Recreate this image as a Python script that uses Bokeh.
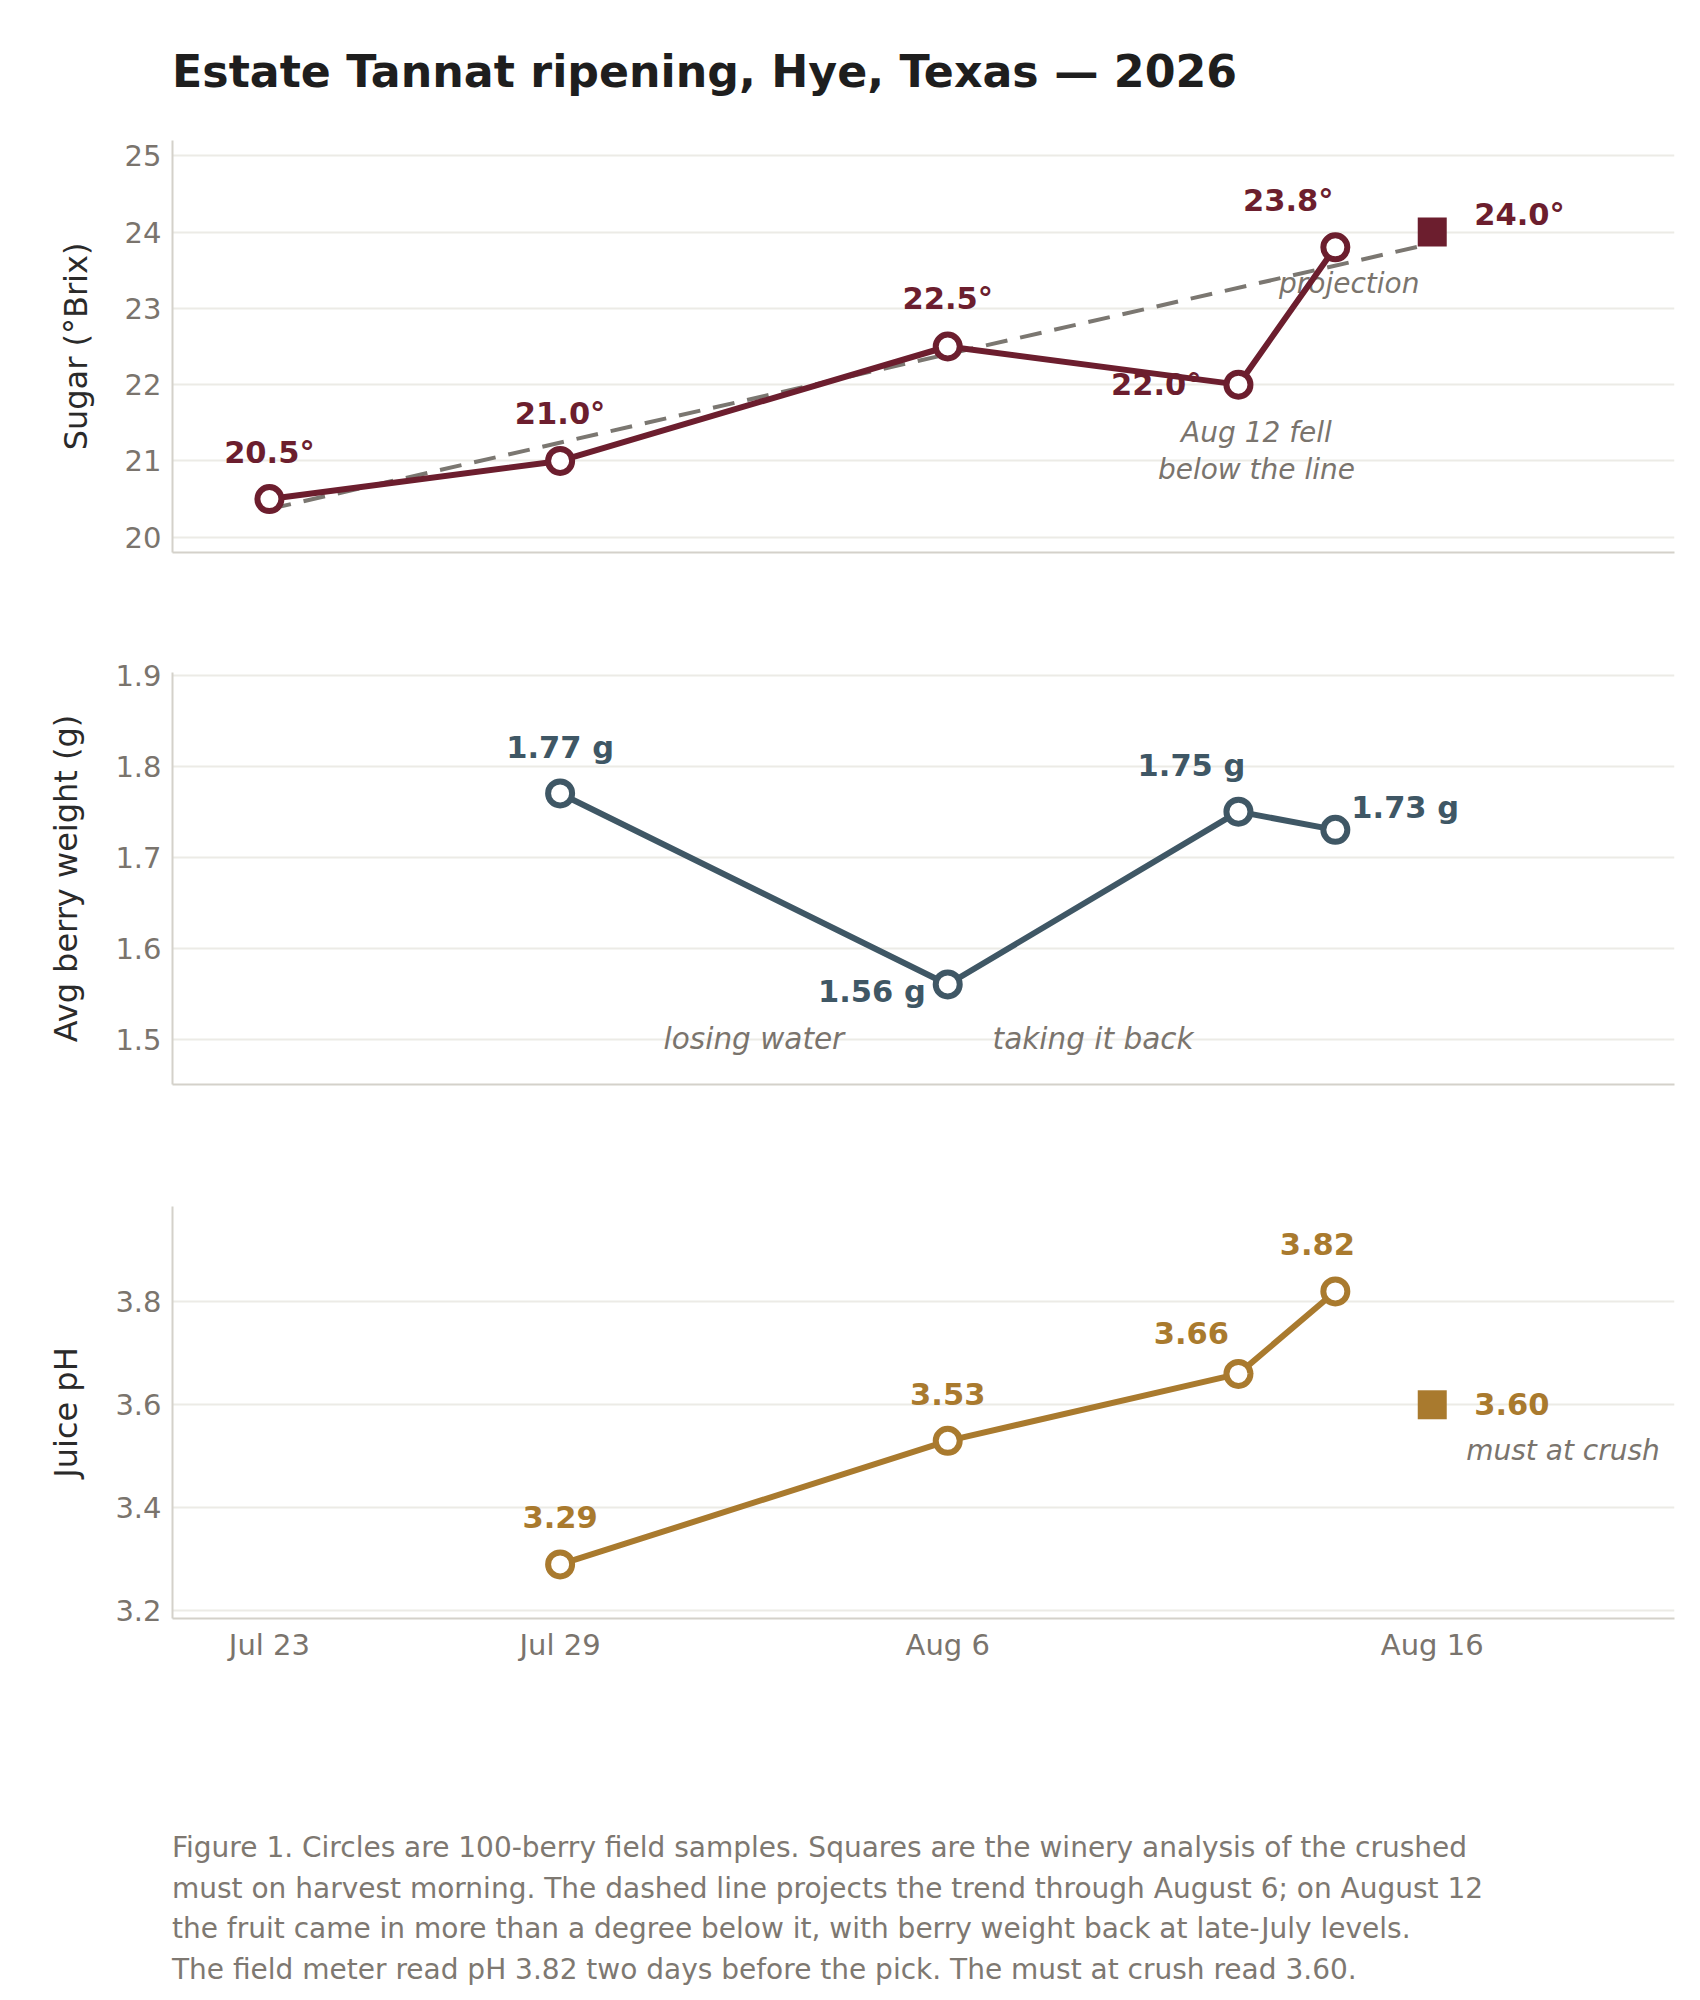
import pandas as pd
from bokeh.plotting import figure
from bokeh.models import Range1d, FixedTicker, Div, ColumnDataSource
from bokeh.layouts import column
from bokeh.core.properties import value
from bokeh.embed import file_html
from bokeh.resources import INLINE

# ---------------- data ----------------
sugar_dates = ["2026-07-23", "2026-07-29", "2026-08-06", "2026-08-12", "2026-08-14"]
sugar_brix = [20.5, 21.0, 22.5, 22.0, 23.8]
berry_dates = ["2026-07-29", "2026-08-06", "2026-08-12", "2026-08-14"]
berry_weight_g = [1.77, 1.56, 1.75, 1.73]
ph_dates = ["2026-07-29", "2026-08-06", "2026-08-12", "2026-08-14"]
juice_ph = [3.29, 3.53, 3.66, 3.82]
crush_date = "2026-08-16"
crush_brix = 24.0
crush_ph = 3.60
projection_dates = ["2026-07-23", "2026-08-16"]
projection_brix = [20.37, 23.85]
tick_dates = ["2026-07-23", "2026-07-29", "2026-08-06", "2026-08-16"]
tick_labels = ["Jul 23", "Jul 29", "Aug 6", "Aug 16"]
x_start, x_end = "2026-07-21", "2026-08-21"
sugar_ticks = [20, 21, 22, 23, 24, 25]
berry_ticks = [1.5, 1.6, 1.7, 1.8, 1.9]
ph_ticks = [3.2, 3.4, 3.6, 3.8]
losing_anchor = ("2026-08-02", 1.5)
taking_anchor = ("2026-08-09", 1.5)

title_text = "Estate Tannat ripening, Hye, Texas \u2014 2026"
caption_lines = [
    "Figure 1. Circles are 100-berry field samples. Squares are the winery analysis of the crushed",
    "must on harvest morning. The dashed line projects the trend through August 6; on August 12",
    "the fruit came in more than a degree below it, with berry weight back at late-July levels.",
    "The field meter read pH 3.82 two days before the pick. The must at crush read 3.60.",
]

# ---------------- style ----------------
FONT = "DejaVu Sans"
MAROON = "#6c1e2e"
SLATE = "#3f5765"
OCHRE = "#a97a2e"
DASH_GREY = "#7b7771"
TICK_GREY = "#7a746d"
NOTE_GREY = "#7a746d"
GRID = "#ecebe6"
AXIS = "#d4d1ca"

T = lambda s: pd.Timestamp(s)
ms = lambda s: pd.Timestamp(s).value / 1e6


def make_fig(height, btop, bbottom, y0, y1, yticks, ylabel, show_x):
    p = figure(width=1692, height=height, x_axis_type="datetime",
               x_range=Range1d(T(x_start), T(x_end)), y_range=Range1d(y0, y1),
               output_backend="svg", toolbar_location=None,
               min_border_left=172, min_border_right=18,
               min_border_top=btop, min_border_bottom=bbottom)
    p.outline_line_color = None
    p.background_fill_color = "white"
    p.border_fill_color = "white"
    p.xgrid.grid_line_color = None
    p.ygrid.grid_line_color = GRID
    p.ygrid.grid_line_width = 2
    p.yaxis.ticker = FixedTicker(ticks=yticks)
    if show_x:
        p.xaxis.ticker = FixedTicker(ticks=[ms(d) for d in tick_dates])
        p.xaxis.major_label_overrides = {ms(d): l for d, l in zip(tick_dates, tick_labels)}
    else:
        p.xaxis.ticker = FixedTicker(ticks=[])
    for ax in (p.xaxis, p.yaxis):
        ax.axis_line_color = AXIS
        ax.axis_line_width = 2
        ax.major_tick_line_color = None
        ax.minor_tick_line_color = None
        ax.major_label_text_font = FONT
        ax.major_label_text_font_size = "29px"
        ax.major_label_text_color = TICK_GREY
    p.xaxis.major_label_standoff = 3
    p.yaxis.major_label_standoff = 5
    p.yaxis.axis_label = ylabel
    p.yaxis.axis_label_text_font = FONT
    p.yaxis.axis_label_text_font_size = "32px"
    p.yaxis.axis_label_text_font_style = "normal"
    p.yaxis.axis_label_text_color = "#2a2a2a"
    p.yaxis.axis_label_standoff = 27
    return p


def lab(p, x, y, text, color, dx=0, dy=0, align="center", style="bold", size="30.5px"):
    src = ColumnDataSource(dict(x=[T(x)], y=[y], t=[text]))
    p.text(x="x", y="y", text="t", source=src, x_offset=dx, y_offset=dy,
           text_align=align, text_baseline="middle", text_font=value(FONT),
           text_font_size=size, text_font_style=style, text_color=color,
           text_line_height=1.13)


def note(p, x, y, text, dx=0, dy=0, align="center", size="28px"):
    lab(p, x, y, text, NOTE_GREY, dx, dy, align, "italic", size)


def series(p, dates, vals, color):
    src = ColumnDataSource(dict(x=[T(d) for d in dates], y=vals))
    p.line("x", "y", source=src, line_color=color, line_width=6)
    p.scatter("x", "y", source=src, marker="circle", size=24, fill_color="white",
              line_color=color, line_width=6)


def crush(p, y, color):
    src = ColumnDataSource(dict(x=[T(crush_date)], y=[y]))
    p.scatter("x", "y", source=src, marker="square", size=29, fill_color=color,
              line_color=None)


# ---------------- panel 1: sugar ----------------
p1 = make_fig(504, 30, 62, 19.8, 25.2, sugar_ticks, "Sugar (\u00b0Brix)", False)
fmt_b = lambda v: f"{v:.1f}\u00b0"
lab(p1, sugar_dates[0], sugar_brix[0], fmt_b(sugar_brix[0]), MAROON, 0, -47)
lab(p1, sugar_dates[1], sugar_brix[1], fmt_b(sugar_brix[1]), MAROON, 0, -47)
lab(p1, sugar_dates[2], sugar_brix[2], fmt_b(sugar_brix[2]), MAROON, 0, -48)
lab(p1, sugar_dates[3], sugar_brix[3], fmt_b(sugar_brix[3]), MAROON, -37, 0, "right")
lab(p1, sugar_dates[4], sugar_brix[4], fmt_b(sugar_brix[4]), MAROON, -47, -47)
lab(p1, crush_date, crush_brix, fmt_b(crush_brix), MAROON, 42, -18, "left")
note(p1, crush_date, crush_brix, "projection", -83, 51)
note(p1, sugar_dates[3], sugar_brix[3], "Aug 12 fell\nbelow the line", 18, 66)
proj = ColumnDataSource(dict(x=[T(d) for d in projection_dates], y=projection_brix))
p1.line("x", "y", source=proj, line_color=DASH_GREY, line_width=4, line_dash="22 13")
series(p1, sugar_dates, sugar_brix, MAROON)
crush(p1, crush_brix, MAROON)

# ---------------- panel 2: berry weight ----------------
p2 = make_fig(532, 58, 62, 1.45, 1.903, berry_ticks, "Avg berry weight (g)", False)
fmt_g = lambda v: f"{v:.2f} g"
lab(p2, berry_dates[0], berry_weight_g[0], fmt_g(berry_weight_g[0]), SLATE, 0, -46)
lab(p2, berry_dates[1], berry_weight_g[1], fmt_g(berry_weight_g[1]), SLATE, -22, 7, "right")
lab(p2, berry_dates[2], berry_weight_g[2], fmt_g(berry_weight_g[2]), SLATE, -47, -46)
lab(p2, berry_dates[3], berry_weight_g[3], fmt_g(berry_weight_g[3]), SLATE, 16, -22, "left")
note(p2, losing_anchor[0], losing_anchor[1], "losing water", size="29.5px")
note(p2, taking_anchor[0], taking_anchor[1], "taking it back", size="29.5px")
series(p2, berry_dates, berry_weight_g, SLATE)

# ---------------- panel 3: pH ----------------
p3 = make_fig(572, 60, 100, 3.185, 3.985, ph_ticks, "Juice pH", True)
fmt_p = lambda v: f"{v:.2f}"
lab(p3, ph_dates[0], juice_ph[0], fmt_p(juice_ph[0]), OCHRE, 0, -47)
lab(p3, ph_dates[1], juice_ph[1], fmt_p(juice_ph[1]), OCHRE, 0, -47)
lab(p3, ph_dates[2], juice_ph[2], fmt_p(juice_ph[2]), OCHRE, -47, -41)
lab(p3, ph_dates[3], juice_ph[3], fmt_p(juice_ph[3]), OCHRE, -18, -47)
lab(p3, crush_date, crush_ph, fmt_p(crush_ph), OCHRE, 42, -1, "left")
note(p3, crush_date, crush_ph, "must at crush", 34, 46, "left")
series(p3, ph_dates, juice_ph, OCHRE)
crush(p3, crush_ph, OCHRE)

# ---------------- title & caption ----------------
title = Div(text=f'<div style="font-family:\'{FONT}\';font-weight:bold;font-size:44.3px;'
                 f'line-height:44px;color:#1e1e1e;padding-top:50px;padding-left:172px;'
                 f'white-space:nowrap;">{title_text}</div>',
            width=1692, height=110, margin=(0, 0, 0, 0))
caption = Div(text=f'<div style="font-family:\'{FONT}\';font-size:28px;line-height:40.5px;'
                   f'color:#7e7871;padding-top:110px;padding-left:172px;white-space:nowrap;">'
                   + "<br>".join(caption_lines) + "</div>",
              width=1692, height=272, margin=(0, 0, 0, 0))

layout = column(title, p1, p2, p3, caption, spacing=0)
open("out.html", "w").write(file_html(layout, INLINE, title="Estate Tannat ripening"))
